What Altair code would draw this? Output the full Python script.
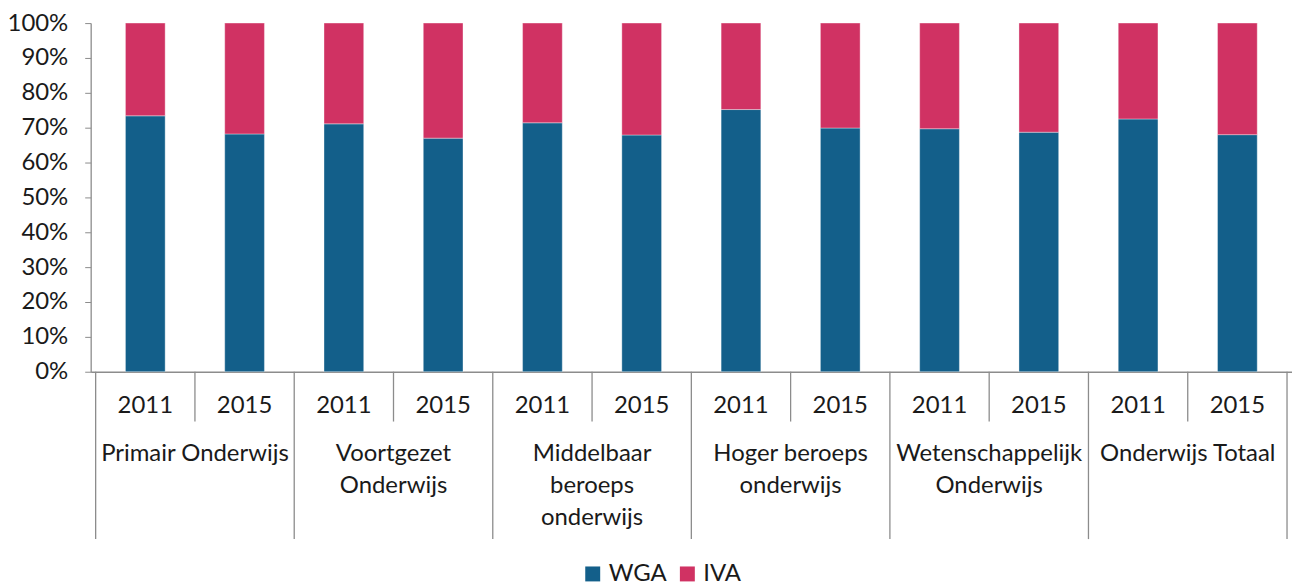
import altair as alt
import pandas as pd

groups = ["Primair Onderwijs", "Voortgezet\nOnderwijs", "Middelbaar\nberoeps\nonderwijs",
          "Hoger beroeps\nonderwijs", "Wetenschappelijk\nOnderwijs", "Onderwijs Totaal"]
years = ["2011", "2015"]
wga = [73.4, 68.2, 71.1, 67.0, 71.4, 67.9, 75.2, 69.9, 69.7, 68.7, 72.5, 68.0]
series = ["WGA", "IVA"]
colors = ["#135F8A", "#D03263"]

rows = []
for i, w in enumerate(wga):
    g = i // 2
    y = years[i % 2]
    for s, v in zip(series, [w, 100 - w]):
        rows.append({"pos": i, "x0": i + 0.3, "x1": i + 0.7, "group": groups[g], "year": y,
                     "serie": s, "value": v / 100, "ord": series.index(s)})
df = pd.DataFrame(rows)

years_df = pd.DataFrame([{"xc": i + 0.5, "year": years[i % 2]} for i in range(len(wga))])
groups_df = pd.DataFrame([{"xc": 2 * g + 1, "label": lab} for g, lab in enumerate(groups)])
short_df = pd.DataFrame([{"xb": i} for i in range(1, len(wga), 2)])
long_df = pd.DataFrame([{"xb": i} for i in range(0, len(wga) + 1, 2)])

W, H = 1206, 350
TOP = 14
LEFT = 83
FONT = "Lato"
FS = 24
xscale = alt.Scale(domain=[0, len(wga)], nice=False, zero=False)

bars = alt.Chart(df).mark_bar(orient="vertical", stroke="white", strokeWidth=0.6,
                              strokeOpacity=0.6).encode(
    x=alt.X("x0:Q", scale=xscale,
            axis=alt.Axis(labels=False, ticks=False, grid=False, title=None,
                          domainColor="#8c8c8c", domainWidth=1.3)),
    x2="x1:Q",
    y=alt.Y("value:Q", stack="zero",
            scale=alt.Scale(domain=[0, 1], nice=False),
            axis=alt.Axis(format=".0%", values=[i / 10 for i in range(11)], grid=False,
                          title=None, tickSize=6, tickColor="#8c8c8c", domainColor="#8c8c8c",
                          domainWidth=1.3, labelFontSize=FS, labelFont=FONT,
                          labelColor="#1a1a1a", labelPadding=17)),
    color=alt.Color("serie:N", scale=alt.Scale(domain=series, range=colors),
                    legend=alt.Legend(title=None, orient="none", direction="horizontal",
                                      legendX=492, legendY=541, symbolType="square",
                                      symbolSize=225, symbolStrokeWidth=0, labelFontSize=FS,
                                      labelFont=FONT, labelColor="#1a1a1a", columnPadding=8,
                                      symbolOffset=0, labelOffset=4)),
    order=alt.Order("ord:Q"),
)

short_rules = alt.Chart(short_df).mark_rule(color="#8c8c8c", strokeWidth=1.3).encode(
    x=alt.X("xb:Q", scale=xscale), y=alt.value(H), y2=alt.value(H + 50))
long_rules = alt.Chart(long_df).mark_rule(color="#8c8c8c", strokeWidth=1.3).encode(
    x=alt.X("xb:Q", scale=xscale), y=alt.value(H), y2=alt.value(H + 168))

year_text = alt.Chart(years_df).mark_text(fontSize=FS, font=FONT, color="#1a1a1a",
                                          baseline="middle").encode(
    x=alt.X("xc:Q", scale=xscale), y=alt.value(H + 34), text="year:N")
group_text = alt.Chart(groups_df).mark_text(fontSize=FS, font=FONT, color="#1a1a1a",
                                            baseline="top", lineBreak="\n",
                                            lineHeight=32).encode(
    x=alt.X("xc:Q", scale=xscale), y=alt.value(H + 71), text="label:N")

chart = alt.layer(bars, short_rules, long_rules, year_text, group_text).properties(
    width=W, height=H,
    autosize=alt.AutoSizeParams(type="none"),
    padding={"left": LEFT, "top": TOP, "right": 0, "bottom": 225},
).configure_view(stroke=None)

chart.save("out.html", embed_options={"renderer": "svg", "actions": False})
